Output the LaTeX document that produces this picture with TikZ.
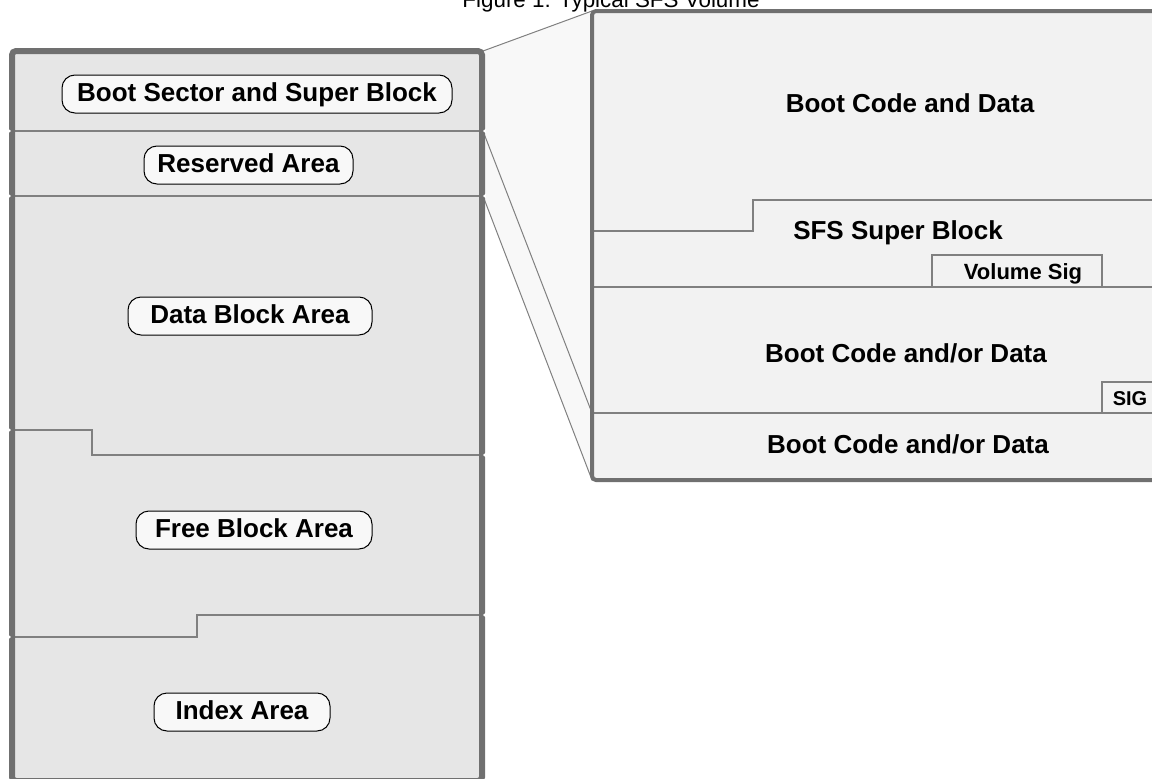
\documentclass[tikz,border=0pt]{standalone}
\usepackage{fontspec}
\setmainfont{Liberation Sans}
\definecolor{framegray}{HTML}{707070}
\definecolor{sepgray}{HTML}{808080}
\definecolor{leftfill}{HTML}{E6E6E6}
\definecolor{rightfill}{HTML}{F2F2F2}
\definecolor{zoomfill}{HTML}{F8F8F8}
\definecolor{pillfill}{HTML}{F8F8F8}
\newcommand{\biglabel}{\fontsize{26}{30}\selectfont\bfseries}
\begin{document}
\begin{tikzpicture}[x=1pt,y=-1pt,
    frame/.style={draw=framegray,rounded corners=4pt},
    sepline/.style={draw=sepgray,line width=1.5pt},
    zoomline/.style={draw=sepgray,line width=1pt},
    pill/.style={draw=black,line width=1pt,fill=pillfill,rounded corners=13pt,
      minimum height=38pt,inner sep=0pt,font=\biglabel,text height=19pt,text depth=5pt},
    lbl/.style={font=\biglabel,text height=19pt,text depth=5pt,inner sep=0pt},
    notch/.style={fill=white}]
    \useasboundingbox (0,0) rectangle (1152,779);
    \clip (0,0) rectangle (1152,779);
    \node[anchor=base,font=\fontsize{22.4}{26}\selectfont,inner sep=0pt] (title) at (611,8) {Figure 1: Typical SFS Volume};
    % zoom lines
    \coordinate (lt) at (483,51);
    \coordinate (lr1) at (483,131);
    \coordinate (lr2) at (483,196);
    \coordinate (rt) at (592,11);
    \coordinate (rs) at (592,413);
    \coordinate (rb) at (592,480);
    \fill[zoomfill] (lt) -- (rt) -- (rb) -- (lr2) -- cycle;
    \draw[zoomline] (lt) -- (rt);
    \draw[zoomline] (lr1) -- (rs);
    \draw[zoomline] (lr2) -- (rb);
    % volume
    \fill[leftfill,rounded corners=4pt] (12,51) rectangle (482,781);
    \draw[sepline] (12,131) -- (482,131);
    \draw[sepline] (12,196) -- (482,196);
    \draw[sepline] (12,430) -- (92,430) -- (92,455) -- (482,455);
    \draw[sepline] (12,637) -- (197,637) -- (197,615) -- (482,615);
    \draw[frame,line width=6pt] (12,51) rectangle (482,781);
    \foreach \y in {131,196,430,637}
      \fill[notch] (8,\y-2.5) -- (11,\y) -- (8,\y+2.5) -- cycle;
    \foreach \y in {131,196,455,615}
      \fill[notch] (486,\y-2.5) -- (483,\y) -- (486,\y+2.5) -- cycle;
    \node[pill,minimum width=390pt] (boot) at (257,94) {Boot Sector and Super Block};
    \node[pill,minimum width=209pt] (resv) at (248.5,165) {Reserved Area};
    \node[pill,minimum width=244pt] (data) at (250,316) {Data Block Area};
    \node[pill,minimum width=236pt] (free) at (254,530) {Free Block Area};
    \node[pill,minimum width=176pt] (index) at (242,712) {Index Area};
    % boot sector detail
    \fill[rightfill,rounded corners=3pt] (592,11) rectangle (1170,480);
    \draw[sepline] (592,231) -- (753,231) -- (753,200) -- (1170,200);
    \draw[sepline] (592,287) -- (1170,287);
    \draw[sepline] (592,413) -- (1170,413);
    \draw[sepline] (932,287) rectangle (1102,255);
    \draw[sepline] (1102,413) rectangle (1170,382);
    \draw[frame,line width=4pt] (592,11) rectangle (1170,480);
    \node[lbl] (bcd) at (910,105) {Boot Code and Data};
    \node[lbl] (sfs) at (898,232) {SFS Super Block};
    \node[lbl,font=\fontsize{22}{26}\selectfont\bfseries,text height=16pt,text depth=0pt] (vsig) at (1023,271) {Volume Sig};
    \node[lbl] (bcd1) at (906,355) {Boot Code and/or Data};
    \node[lbl,font=\fontsize{20}{24}\selectfont\bfseries,text height=15pt,text depth=0pt] (sig) at (1130,398) {SIG};
    \node[lbl] (bcd2) at (908,446) {Boot Code and/or Data};
\end{tikzpicture}
\end{document}
